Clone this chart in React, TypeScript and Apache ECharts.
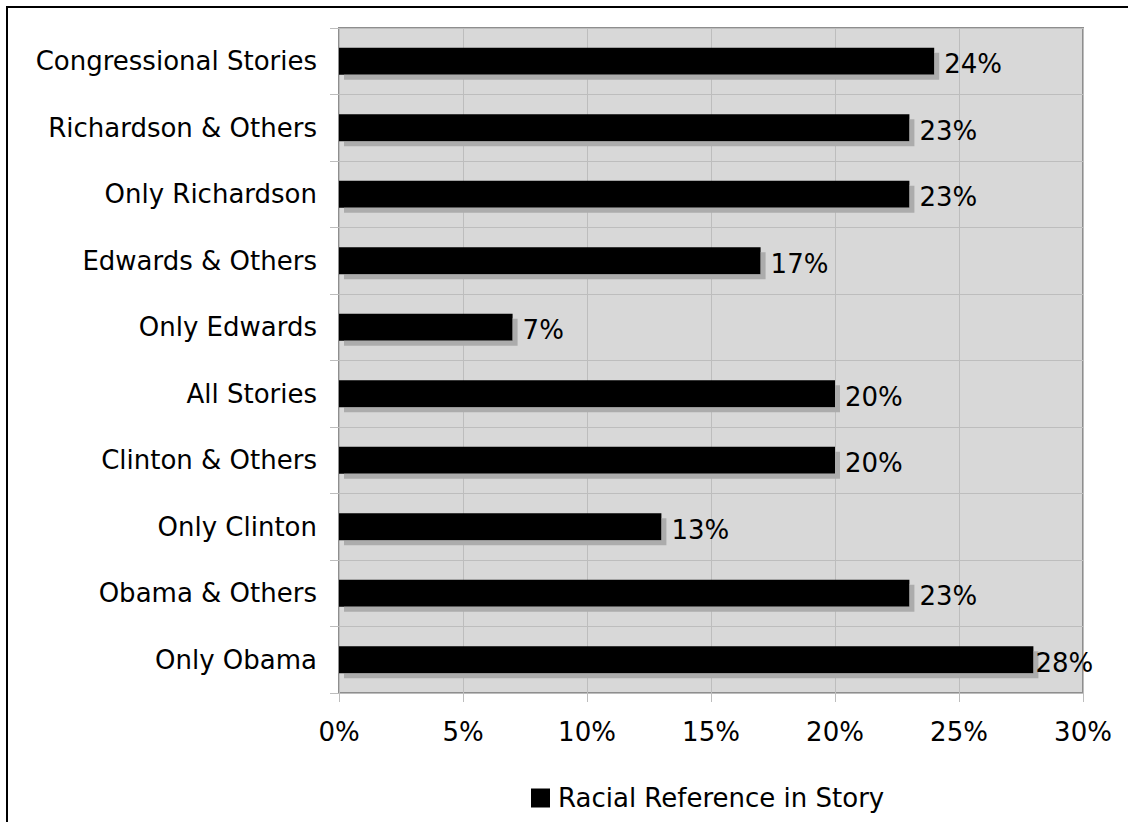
import React, { useEffect, useRef } from "react";
import * as echarts from "echarts";

const categories = [
  "Congressional Stories",
  "Richardson & Others",
  "Only Richardson",
  "Edwards & Others",
  "Only Edwards",
  "All Stories",
  "Clinton & Others",
  "Only Clinton",
  "Obama & Others",
  "Only Obama",
];
const values = [24, 23, 23, 17, 7, 20, 20, 13, 23, 28];
const seriesName = "Racial Reference in Story";
const xTicks = { min: 0, max: 30, interval: 5 };

const FONT = "'DejaVu Sans', Verdana, sans-serif";
const FS = 26;

export default function App() {
  const ref = useRef<HTMLDivElement>(null);
  useEffect(() => {
    if (!ref.current) return;
    const chart = echarts.init(ref.current, null, { renderer: "svg" });
    chart.setOption({
      animation: false,
      textStyle: { fontFamily: FONT },
      grid: {
        left: 333,
        top: 22,
        right: 45,
        bottom: 129,
        show: true,
        backgroundColor: "#d8d8d8",
        borderColor: "#8e8e8e",
        borderWidth: 2,
      },
      legend: {
        left: 525,
        top: 779,
        padding: 0,
        icon: "rect",
        itemWidth: 19,
        itemHeight: 19,
        itemGap: 10,
        textStyle: { fontSize: FS, color: "#000", fontFamily: FONT, padding: [0, 0, 0, 3] },
        data: [seriesName],
      },
      xAxis: {
        type: "value",
        min: xTicks.min,
        max: xTicks.max,
        interval: xTicks.interval,
        axisLine: { show: false },
        axisTick: { show: true, length: 9, lineStyle: { color: "#bdbdbd" } },
        splitLine: { show: true, lineStyle: { color: "#bdbdbd", width: 1 } },
        axisLabel: {
          formatter: "{value}%",
          fontSize: FS,
          color: "#000",
          margin: 26,
          fontFamily: FONT,
        },
      },
      yAxis: {
        type: "category",
        inverse: true,
        data: categories,
        axisLine: { show: false },
        axisTick: { show: true, length: 9, lineStyle: { color: "#bdbdbd" } },
        splitLine: { show: true, lineStyle: { color: "#bdbdbd", width: 1 } },
        axisLabel: {
          fontSize: FS,
          color: "#000",
          margin: 22,
          fontFamily: FONT,
          padding: [3, 0, 0, 0],
        },
      },
      series: [
        {
          name: seriesName,
          type: "bar",
          barWidth: 27,
          data: values.map((v, i) => ({
            value: v,
            label: i === values.length - 1 ? { distance: 2 } : undefined,
          })),
          itemStyle: {
            color: "#000",
            shadowColor: "#acacac",
            shadowOffsetX: 5,
            shadowOffsetY: 5,
            shadowBlur: 0,
          },
          label: {
            show: true,
            position: "right",
            distance: 10,
            formatter: "{c}%",
            fontSize: FS,
            color: "#000",
            fontFamily: FONT,
            offset: [0, 3],
          },
        },
      ],
      graphic: [
        { type: "rect", shape: { x: 0, y: 0, width: 1122, height: 2 }, style: { fill: "#000" } },
        { type: "rect", shape: { x: 0, y: 0, width: 2, height: 816 }, style: { fill: "#000" } },
      ],
    });
    return () => chart.dispose();
  }, []);
  return (
    <div
      ref={ref}
      style={{ position: "absolute", left: 6, top: 6, width: 1122, height: 816 }}
    />
  );
}
